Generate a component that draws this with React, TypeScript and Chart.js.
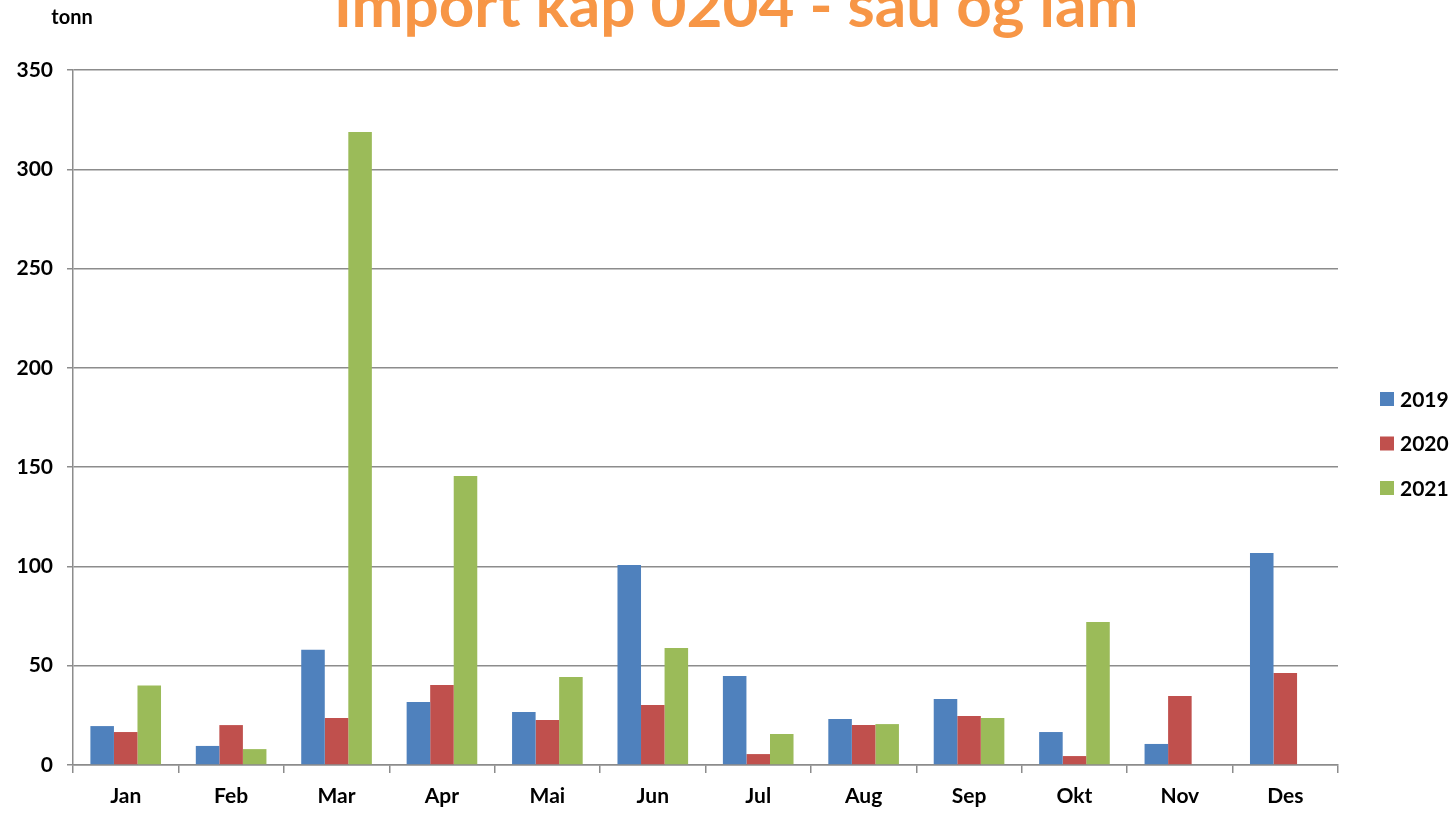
import React, { useEffect, useRef } from "react";
import { Chart, registerables } from "chart.js";

Chart.register(...registerables);

const months = ["Jan", "Feb", "Mar", "Apr", "Mai", "Jun", "Jul", "Aug", "Sep", "Okt", "Nov", "Des"];
const series2019 = [19.6, 9.6, 58, 31.7, 26.7, 100.7, 44.8, 23.2, 33.2, 16.6, 10.6, 106.8];
const series2020 = [16.6, 20.1, 23.7, 40.3, 22.7, 30.2, 5.5, 20.1, 24.7, 4.5, 34.7, 46.3];
const series2021 = [40, 8, 318.8, 145.5, 44.3, 58.9, 15.6, 20.6, 23.7, 72, null, null];
const seriesNames = ["2019", "2020", "2021"];
const seriesColors = ["#4F81BD", "#C0504D", "#9BBB59"];
const titleText = "Import kap 0204 - sau og lam";
const unitText = "tonn";

const FONT = "Lato, 'Open Sans', sans-serif";
const GRID = "#8c8c8c";

const extrasPlugin = {
  id: "extras",
  afterDraw(chart: any) {
    const ctx = chart.ctx;
    ctx.save();
    // title
    ctx.fillStyle = "#F79646";
    ctx.font = `bold 62px ${FONT}`;
    ctx.textAlign = "center";
    ctx.textBaseline = "alphabetic";
    ctx.fillText(titleText, 736, 27);
    // unit
    ctx.fillStyle = "#000";
    ctx.font = `bold 20px ${FONT}`;
    ctx.textAlign = "center";
    ctx.textBaseline = "middle";
    ctx.fillText(unitText, 72, 18);
    // legend
    const dsets = chart.data.datasets;
    ctx.font = `bold 21px ${FONT}`;
    ctx.textAlign = "left";
    for (let i = 0; i < dsets.length; i++) {
      const cy = 399 + i * 44.5;
      ctx.fillStyle = dsets[i].backgroundColor;
      ctx.fillRect(1380, cy - 7, 14, 14);
      ctx.fillStyle = "#000";
      ctx.fillText(dsets[i].label, 1400, cy + 1);
    }
    ctx.restore();
  },
};

export default function App() {
  const ref = useRef<HTMLCanvasElement | null>(null);
  useEffect(() => {
    if (!ref.current) return;
    const chart = new Chart(ref.current, {
      type: "bar",
      data: {
        labels: months,
        datasets: [series2019, series2020, series2021].map((d, i) => ({
          label: seriesNames[i],
          data: d,
          backgroundColor: seriesColors[i],
          borderWidth: 0,
          categoryPercentage: 0.67,
          barPercentage: 1.0,
        })),
      },
      options: {
        animation: false,
        responsive: false,
        layout: { padding: { top: 70, right: 117, left: 0, bottom: 0 } },
        plugins: {
          legend: { display: false },
          title: { display: false },
          tooltip: { enabled: false },
        },
        scales: {
          x: {
            offset: true,
            grid: {
              offset: true,
              drawOnChartArea: false,
              drawTicks: true,
              tickLength: 8,
              color: GRID,
              lineWidth: 1.5,
            },
            border: { color: GRID, width: 1.5 },
            ticks: {
              color: "#000",
              font: { family: FONT, size: 21, weight: "bold" },
              padding: 11,
            },
            afterFit: (s: any) => {
              s.height = 49;
            },
          },
          y: {
            min: 0,
            max: 350,
            ticks: {
              stepSize: 50,
              color: "#000",
              font: { family: FONT, size: 21, weight: "bold" },
              padding: 14,
            },
            grid: { color: GRID, lineWidth: 1.5, tickLength: 6 },
            border: { color: GRID, width: 1.5 },
            afterFit: (s: any) => {
              s.width = 73;
            },
          },
        },
      },
      plugins: [extrasPlugin],
    });
    return () => chart.destroy();
  }, []);
  return (
    <div style={{ position: "absolute", left: 0, top: 0, width: 1455, height: 814, background: "#fff" }}>
      <canvas ref={ref} width={1455} height={814} style={{ width: 1455, height: 814, display: "block" }} />
    </div>
  );
}
